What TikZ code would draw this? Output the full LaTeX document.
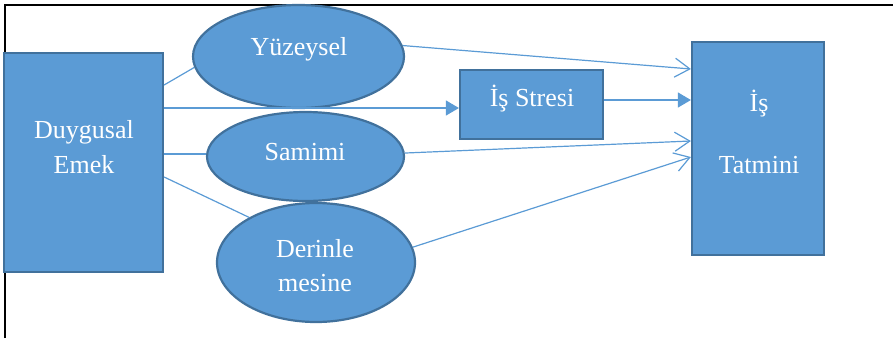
\documentclass[tikz,border=0pt]{standalone}
\usepackage{fontspec}
\setmainfont{Liberation Serif}
\usetikzlibrary{arrows.meta,shapes.geometric}
\definecolor{boxfill}{HTML}{5B9BD5}
\definecolor{boxedge}{HTML}{41719C}
\definecolor{linkc}{HTML}{5B9BD5}
\tikzset{
  shapebox/.style={rectangle, draw=boxedge, fill=boxfill, line width=2.2pt, inner sep=0pt},
  shapeell/.style={ellipse, draw=boxedge, fill=boxfill, line width=2.2pt, inner sep=0pt},
  lbl/.style={anchor=base, text=white, inner sep=0pt, font=\fontsize{26}{26}\selectfont},
  link/.style={draw=linkc, line width=1.2pt},
  solidarrow/.style={link, -{Triangle[length=13pt,width=15pt]}},
  openarrow/.style={link, -{Straight Barb[length=15pt,width=19pt,line width=1.2pt]}},
  frameline/.style={draw=black, line width=2.2pt}
}
\begin{document}
\begin{tikzpicture}[x=1pt,y=-1pt]
\useasboundingbox (0,0) rectangle (893,338);
% frame
\coordinate (fA) at (5,338);
\coordinate (fB) at (5,5);
\coordinate (fC) at (893,5);
\draw[frameline] (fA) -- (fB) -- (fC);
% shapes
\node[shapebox, minimum width=159pt, minimum height=219pt] (du) at (83.5,162.5) {};
\node[shapeell, minimum width=211pt, minimum height=103pt] (yz) at (298.5,56.5) {};
\node[shapeell, minimum width=197pt, minimum height=89pt] (sa) at (305.5,156.5) {};
\node[shapeell, minimum width=198pt, minimum height=119pt] (de) at (316,262.5) {};
\node[shapebox, minimum width=143pt, minimum height=69pt] (st) at (531.5,104.5) {};
\node[shapebox, minimum width=132pt, minimum height=213pt] (ta) at (758,148.5) {};
% labels
\node[lbl] (t1) at (84,138) {Duygusal};
\node[lbl] (t2) at (84,173) {Emek};
\node[lbl] (t3) at (299,55) {Yüzeysel};
\node[lbl] (t4) at (305,160) {Samimi};
\node[lbl] (t5) at (315,257) {Derinle};
\node[lbl] (t6) at (315,291) {mesine};
\node[lbl] (t7) at (532,106) {İş Stresi};
\node[lbl] (t8) at (759,111) {İş};
\node[lbl] (t9) at (759,173) {Tatmini};
% connectors
\draw[link] ([yshift=77.5pt]du.east) -- (yz.186);
\draw[solidarrow] ([yshift=54.5pt]du.east) -- ([yshift=-3.5pt]st.west);
\draw[link] ([yshift=8.5pt]du.east) -- ([yshift=2.5pt]sa.west);
\draw[link] ([yshift=-14.5pt]du.east) -- (de.146);
\draw[openarrow] (yz.6) -- ([yshift=79.5pt]ta.west);
\draw[solidarrow] ([yshift=4.5pt]st.east) -- ([yshift=48.5pt]ta.west);
\draw[openarrow] (sa.2) -- ([yshift=7.5pt]ta.west);
\draw[openarrow] (de.9) -- ([yshift=-8.5pt]ta.west);
\end{tikzpicture}
\end{document}
